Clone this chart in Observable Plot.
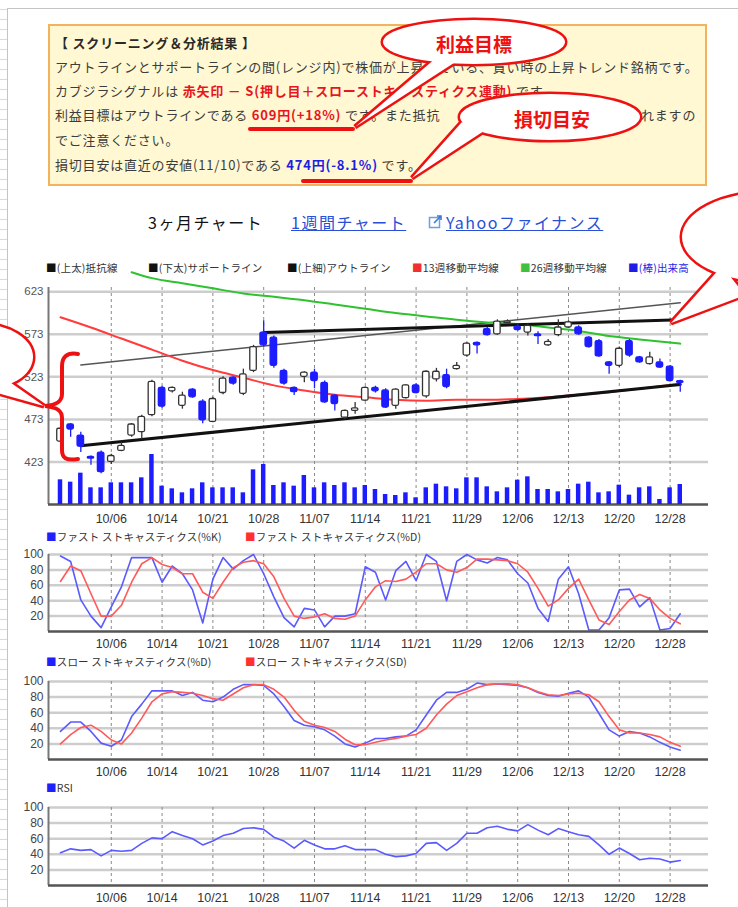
<!DOCTYPE html>
<html><head><meta charset="utf-8">
<script src="https://cdn.jsdelivr.net/npm/d3@7"></script>
<script src="https://cdn.jsdelivr.net/npm/@observablehq/plot@0.6"></script>
<style>
html,body{margin:0;padding:0;}
body{width:738px;height:907px;overflow:hidden;position:relative;background:#fff;font-family:"Noto Sans CJK JP","Noto Sans",sans-serif;color:#333;}
.a{position:absolute;white-space:nowrap;}
#strip{left:0;top:0;width:7px;height:907px;background:repeating-linear-gradient(to bottom,#fff 0,#fff 9px,#dadada 9px,#dadada 10px);}
#frameL{left:7px;top:8px;width:1px;height:899px;background:#c4c4c4;}
#frameT{left:7px;top:8px;width:731px;height:1px;background:#c4c4c4;}
#box{left:48px;top:24px;width:655px;height:158px;border:2px solid #f2b35c;background:#fff8d2;}
.bl{position:absolute;left:55px;font-size:13px;letter-spacing:0.8px;line-height:18px;color:#3c3c3c;white-space:nowrap;}
.red{color:#e8141e;font-weight:bold;}
.blu{color:#1d1de6;font-weight:bold;}
.tt{position:absolute;top:211px;font-size:16px;letter-spacing:1.5px;line-height:22px;white-space:nowrap;}
.lnk{color:#2a4fd6;text-decoration:underline;}
.lg{position:absolute;font-size:10.5px;line-height:14px;color:#333;white-space:nowrap;letter-spacing:0.2px;}
.plot{position:absolute;left:0;}
#ann{position:absolute;left:0;top:0;pointer-events:none;}
</style></head><body>
<div id="strip" class="a"></div><div id="frameL" class="a"></div><div id="frameT" class="a"></div>
<div id="box" class="a"></div>
<div class="bl" style="top:34px;font-weight:bold;color:#2a2a2a">【 スクリーニング＆分析結果 】</div>
<div class="bl" style="top:58px">アウトラインとサポートラインの間(レンジ内)で株価が上昇している、買い時の上昇トレンド銘柄です。</div>
<div class="bl" style="top:82px">カブジラシグナルは <span class="red">赤矢印 － S(押し目＋スローストキャスティクス連動)</span> です。</div>
<div class="bl" style="top:106px">利益目標はアウトラインである <span class="red">609円(+18%)</span> です。また抵抗</div>
<div class="bl" style="top:106px;left:641px">れますの</div>
<div class="bl" style="top:131px">でご注意ください。</div>
<div class="bl" style="top:156px">損切目安は直近の安値(11/10)である <span class="blu">474円(-8.1%)</span> です。</div>

<div class="tt" style="left:148px;color:#111">3ヶ月チャート</div>
<div class="tt lnk" style="left:291px">1週間チャート</div>
<svg class="a" style="left:428px;top:214px" width="15" height="15" viewBox="0 0 15 15"><rect x="1.5" y="3.5" width="10" height="10" fill="none" stroke="#6aa0e0" stroke-width="1.5"/><path d="M6 9 L13 2 M9 2 L13 2 L13 6" fill="none" stroke="#3a7ad8" stroke-width="1.6"/></svg>
<div class="tt lnk" style="left:446px">Yahooファイナンス</div>

<div class="lg" style="left:46px;top:261px"><span style="color:#111">■</span>(上太)抵抗線</div>
<div class="lg" style="left:148px;top:261px"><span style="color:#111">■</span>(下太)サポートライン</div>
<div class="lg" style="left:287px;top:261px"><span style="color:#111">■</span>(上細)アウトライン</div>
<div class="lg" style="left:412px;top:261px"><span style="color:#f03030">■</span>13週移動平均線</div>
<div class="lg" style="left:520px;top:261px"><span style="color:#40c040">■</span>26週移動平均線</div>
<div class="lg" style="left:628px;top:261px;color:#1d1de6"><span>■</span>(棒)出来高</div>

<div class="lg" style="left:46px;top:530px"><span style="color:#2020ff">■</span>ファスト ストキャスティクス(%K)</div>
<div class="lg" style="left:245px;top:530px"><span style="color:#ff3030">■</span>ファスト ストキャスティクス(%D)</div>
<div class="lg" style="left:46px;top:655px"><span style="color:#2020ff">■</span>スロー ストキャスティクス(%D)</div>
<div class="lg" style="left:245px;top:655px"><span style="color:#ff3030">■</span>スロー ストキャスティクス(SD)</div>
<div class="lg" style="left:46px;top:781px"><span style="color:#2020ff">■</span>RSI</div>

<script>
// ---- data ----
const tickLabels = ["10/06","10/14","10/21","10/28","11/07","11/14","11/21","11/29","12/06","12/13","12/20","12/28"];
const tickIdx = [5,10,15,20,25,30,35,40,45,50,55,60];
const priceTicks = [423,473,523,573,623];
const pctTicks = [20,40,60,80,100];

const open  = [447,467,454,429,434,423,436,454,458,478,510,506,489,508,494,470,504,522,503,530,575,569,530,510,523,528,516,501,475,483,495,510,507,489,498,513,500,520,525,532,548,563,579,573,586,582,575,573,560,572,581,581,569,565,540,536,565,546,538,540,535,518];
const high  = [463,468,458,430,436,432,446,468,478,519,512,511,505,509,496,499,523,523,532,560,589,571,532,511,529,532,518,502,484,493,511,512,509,509,514,515,530,533,532,540,563,564,581,590,590,585,585,576,567,590,589,583,570,567,541,558,567,547,552,544,536,519];
const low   = [446,452,434,419,409,420,435,452,449,476,486,504,485,498,468,469,502,513,501,528,558,533,513,501,516,509,492,483,473,479,494,504,486,485,497,503,498,517,509,531,546,550,571,572,585,577,571,561,559,570,580,572,557,546,526,534,546,539,537,533,517,505];
const close = [462,461,441,427,411,430,442,467,476,517,488,510,501,499,472,497,521,515,526,558,560,536,515,505,528,518,493,491,483,486,510,506,487,508,513,504,529,529,511,536,562,560,572,588,588,578,583,571,564,581,587,573,558,547,536,556,548,540,546,534,518,516];
const volume = [74,67,94,50,50,65,65,65,80,150,55,47,35,47,65,50,50,50,35,104,120,57,65,55,87,50,65,57,65,50,57,45,30,27,35,20,50,61,53,47,80,80,53,38,50,73,83,45,45,38,45,61,67,35,38,58,28,50,53,15,50,60];

const ma13Idx = [0,3,6,9,12,15,18,21,24,27,30,33,36,39,42,45,48,51,54,57,61];
const ma13    = [593,581,568,555,542,531,522,513,507,502,499,496,495,496,496,497,499,502,505,509,515];
const ma26Idx = [7,9,12,15,18,21,24,27,30,33,36,39,42,45,48,51,54,57,61];
const ma26    = [646,639,633,627,621,617,613,608,603,598,594,590,587,585,581,577,571,567,562];

const resistIdx = [20,61], resistVal = [575,590];
const outlineIdx = [2,61], outlineVal = [537,610];
const supportIdx = [2,61], supportVal = [442,514];

const fastK = [98,91,41,20,5,32,58,96,96,96, 64,85,75,54,11,68,96,81,92,100, 75,45,18,6,30,28,6,20,20,23, 84,77,41,79,91,66,100,91,40,91, 100,93,89,96,93,75,63,30,13,68, 84,49,2,2,18,54,55,32,44,2, 4,23];
const fastD = [65,85,79,49,20,20,34,64,88,96, 87,83,75,75,51,43,64,83,90,92, 88,71,43,20,17,19,23,17,16,20, 41,58,66,65,68,77,88,88,80,77, 83,94,94,93,92,88,77,56,33,41, 56,68,41,15,9,26,41,48,43,28, 17,10];
const slowD = [36,48,48,36,21,17,25,55,71,88, 88,88,82,86,76,74,80,90,96,96, 95,84,68,50,44,42,38,30,20,16, 21,27,27,29,30,38,57,76,86,86, 90,98,96,97,96,95,92,86,82,81, 85,88,80,59,38,30,36,34,29,22, 16,12];
const slowSD = [20,32,41,44,36,25,20,34,53,74, 84,87,86,85,82,78,76,84,92,96, 96,90,80,63,49,44,41,36,26,19, 19,22,25,27,30,32,40,57,71,82, 87,92,96,97,97,96,92,87,83,82, 84,85,83,74,55,38,34,34,32,29, 22,17];
const rsi = [42,47,45,46,38,45,44,45,54,61, 60,69,64,60,52,57,64,67,73,74, 72,62,57,48,58,52,47,47,51,46, 46,46,40,37,38,41,54,55,45,54, 67,67,74,76,72,70,78,71,65,73, 69,65,63,52,40,48,41,33,35,34, 30,32];

// ---- layout constants ----
const xDomain = [-1.18, 63.78];
const priceDomain = [373, 628];
const W = 738, ML = 48, MR = 30;
const BLUE = "#1c1cff";
const FONT = "'Liberation Sans', Arial, sans-serif";

const candles = open.map((o, i) => ({i, o, h: high[i], l: low[i], c: close[i], up: close[i] >= o}));
const vols = volume.map((v, i) => ({i, v}));
const pts = (xs, ys) => xs.map((x, k) => ({x, y: ys[k]}));
const series = arr => arr.map((y, x) => ({x, y}));
const fmt = d => tickLabels[tickIdx.indexOf(d)];

function place(svg, top) {
  svg.classList.add("plot");
  svg.style.top = top + "px";
  document.body.appendChild(svg);
}

// main price chart
const main = Plot.plot({
  width: W, height: 280, marginTop: 37, marginBottom: 26, marginLeft: ML, marginRight: MR,
  x: {domain: xDomain}, y: {domain: priceDomain},
  style: {background: "transparent", fontFamily: FONT, overflow: "visible"},
  marks: [
    Plot.ruleY(priceTicks, {stroke: "#cdcdcd", strokeWidth: 2.5}),
    Plot.ruleX(tickIdx, {stroke: "#8a8a8a", strokeWidth: 1, strokeDasharray: "3,3"}),
    Plot.line(pts(outlineIdx, outlineVal), {x: "x", y: "y", stroke: "#555", strokeWidth: 1.5}),
    Plot.line(pts(ma26Idx, ma26), {x: "x", y: "y", stroke: "#2fc22f", strokeWidth: 2, curve: "monotone-x"}),
    Plot.line(pts(ma13Idx, ma13), {x: "x", y: "y", stroke: "#ff3b3b", strokeWidth: 2, curve: "monotone-x"}),
    Plot.line(pts(resistIdx, resistVal), {x: "x", y: "y", stroke: "#111", strokeWidth: 3}),
    Plot.line(pts(supportIdx, supportVal), {x: "x", y: "y", stroke: "#111", strokeWidth: 3}),
    Plot.ruleX(candles, {x: "i", y1: "l", y2: "h", stroke: d => d.up ? "#333" : BLUE, strokeWidth: 1.3}),
    Plot.rect(candles, {x1: d => d.i - 0.32, x2: d => d.i + 0.32, y1: "o", y2: "c",
      fill: d => d.up ? "white" : BLUE, stroke: d => d.up ? "#333" : BLUE, strokeWidth: 1.3, rx: 1.5}),
    Plot.axisY({ticks: priceTicks, tickSize: 0, tickPadding: 5, fontSize: 11.5, fill: "#555", label: null}),
    Plot.axisX({ticks: tickIdx, tickFormat: fmt, tickSize: 0, tickPadding: 10, fontSize: 12.5, fill: "#333", label: null}),
    Plot.ruleX([xDomain[0]], {stroke: "#777", strokeWidth: 2}),
    Plot.ruleY([priceDomain[0]], {stroke: "#555", strokeWidth: 2.5})
  ]
});

// volume bars (overlay, own scale)
const volPlot = Plot.plot({
  width: W, height: 280, marginTop: 184, marginBottom: 26, marginLeft: ML, marginRight: MR,
  x: {domain: xDomain, axis: null}, y: {domain: [0, 210], axis: null},
  style: {background: "transparent"},
  marks: [
    Plot.rectY(vols, {x1: d => d.i - 0.22, x2: d => d.i + 0.22, y: "v", fill: BLUE})
  ]
});

function indicator(lines, height, mt, mb, pad) {
  return Plot.plot({
    width: W, height, marginTop: mt, marginBottom: mb, marginLeft: ML, marginRight: MR,
    x: {domain: xDomain}, y: {domain: [0, 100]},
    style: {background: "transparent", fontFamily: FONT},
    marks: [
      Plot.ruleY(pctTicks, {stroke: "#cdcdcd", strokeWidth: 2.5}),
      Plot.ruleX(tickIdx, {stroke: "#8a8a8a", strokeWidth: 1, strokeDasharray: "3,3"}),
      ...lines.map(([arr, col]) => Plot.line(series(arr), {x: "x", y: "y", stroke: col, strokeWidth: 1.6})),
      Plot.axisY({ticks: pctTicks, tickSize: 0, tickPadding: 5, fontSize: 12, fill: "#444", label: null}),
      Plot.axisX({ticks: tickIdx, tickFormat: fmt, tickSize: 0, tickPadding: pad, fontSize: 12.5, fill: "#333", label: null}),
      Plot.ruleX([xDomain[0]], {stroke: "#777", strokeWidth: 2}),
      Plot.ruleY([0], {stroke: "#555", strokeWidth: 2.5})
    ]
  });
}

place(main, 250);
place(volPlot, 250);
place(indicator([[fastK, "#5a5aff"], [fastD, "#ff5a5a"]], 106, 9, 20, 7.5), 545);
place(indicator([[slowD, "#5a5aff"], [slowSD, "#ff5a5a"]], 107, 9, 20, 8), 672);
place(indicator([[rsi, "#5a5aff"]], 107, 9, 20, 7.5), 798);
</script>

<svg id="ann" width="738" height="907" style="z-index:10">
  <g stroke="#ee1111" stroke-width="4" fill="none" stroke-linecap="round">
    <line x1="250" y1="129" x2="353" y2="129"/>
    <line x1="303" y1="181" x2="411" y2="181"/>
    <path d="M78,354 C66,352 62,358 62,366 L62,394 C62,402 56,405 45,406 C56,407 62,410 62,418 L62,450 C62,458 66,461 78,459"/>
  </g>
  <g stroke="#ee1111" stroke-width="5" fill="white" stroke-linejoin="miter">
    <ellipse cx="474" cy="42" rx="91" ry="22"/><polygon points="436,58 355,127 457,61"/>
    <ellipse cx="550" cy="117" rx="90" ry="23"/><polygon points="462,122 412,178 484,131"/>
    <ellipse cx="770" cy="237" rx="88" ry="45"/><polygon points="722,266 671,323 745,295"/>
    <ellipse cx="-20" cy="357" rx="53" ry="33"/><polygon points="4,378 44,406 -6,392"/>
  </g>
  <g fill="white" stroke="none">
    <ellipse cx="474" cy="42" rx="91" ry="22"/><polygon points="436,58 355,127 457,61"/>
    <ellipse cx="550" cy="117" rx="90" ry="23"/><polygon points="462,122 412,178 484,131"/>
    <ellipse cx="770" cy="237" rx="88" ry="45"/><polygon points="722,266 671,323 745,295"/>
    <ellipse cx="-20" cy="357" rx="53" ry="33"/><polygon points="4,378 44,406 -6,392"/>
  </g>
  <g fill="#ee1111" font-family="'Noto Sans CJK JP',sans-serif" font-weight="bold" font-size="19" text-anchor="middle" dominant-baseline="central">
    <text x="474" y="43">利益目標</text>
    <text x="552" y="118">損切目安</text>
  </g>
</svg>
</body></html>
